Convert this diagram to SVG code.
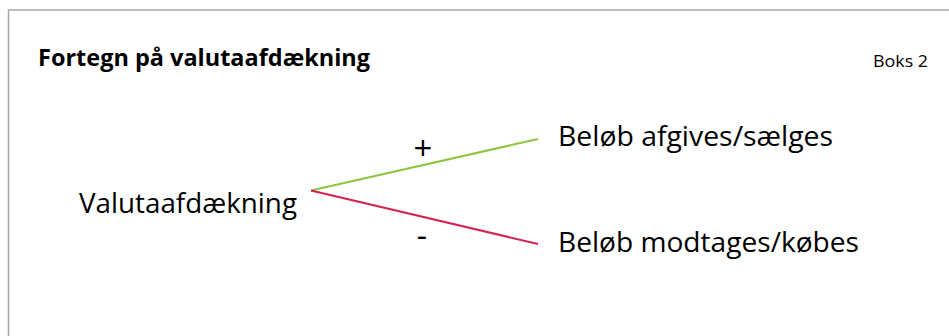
<svg xmlns="http://www.w3.org/2000/svg" width="949" height="336" viewBox="0 0 949 336">
<style>
.t{font-family:"Open Sans","Liberation Sans",sans-serif;fill:#000}
.lbl{font-size:27px}
</style>
<rect width="949" height="336" fill="#fff"/>
<g id="frame"><polyline points="949,10 8.5,10 8.5,336" fill="none" stroke="#a6a6a6" stroke-width="1.5"/></g>
<text class="t" x="38" y="66" font-size="22.5" font-weight="bold" textLength="332" lengthAdjust="spacingAndGlyphs">Fortegn på valutaafdækning</text>
<text class="t" x="873" y="67" font-size="17" textLength="55" lengthAdjust="spacingAndGlyphs">Boks 2</text>
<g id="connectors">
<line x1="311" y1="190.5" x2="538" y2="139" stroke="#8cc63f" stroke-width="2"/>
<line x1="311" y1="190.5" x2="538" y2="244" stroke="#d5234f" stroke-width="2"/>
<text class="t" x="423" y="160" font-size="33" text-anchor="middle">+</text>
<text class="t" x="422" y="246.5" font-size="32" text-anchor="middle">-</text>
</g>
<g id="node-source"><text class="t lbl" x="79" y="213" textLength="218" lengthAdjust="spacingAndGlyphs">Valutaafdækning</text></g>
<g id="node-plus"><text class="t lbl" x="558" y="146" textLength="275" lengthAdjust="spacingAndGlyphs">Beløb afgives/sælges</text></g>
<g id="node-minus"><text class="t lbl" x="558" y="252" textLength="301" lengthAdjust="spacingAndGlyphs">Beløb modtages/købes</text></g>
</svg>
